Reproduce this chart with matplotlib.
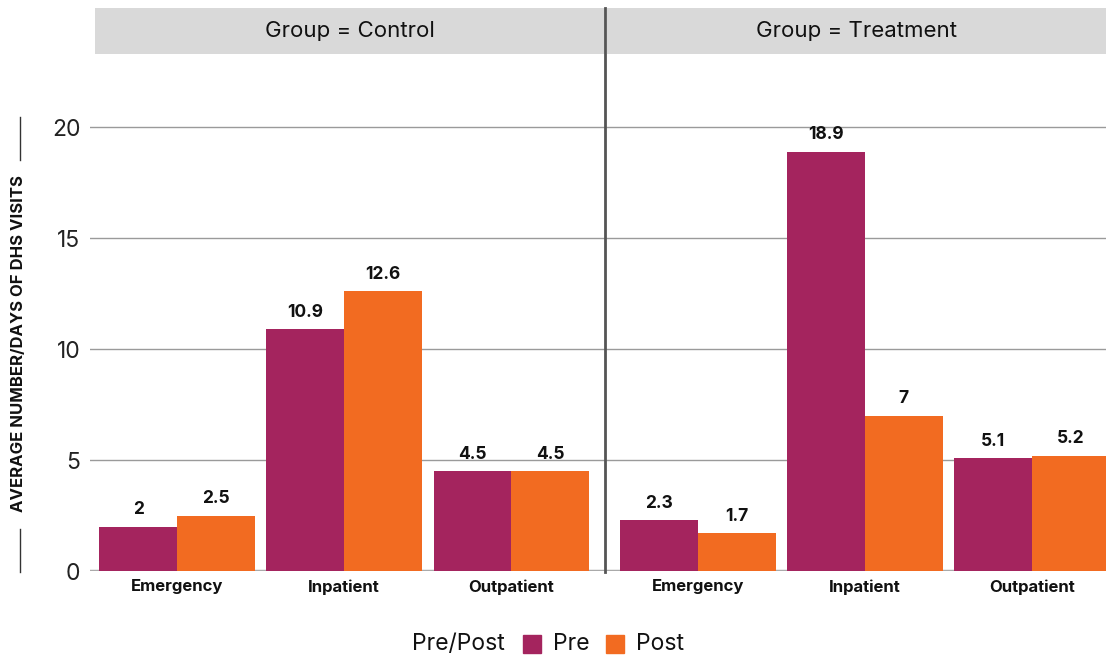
import matplotlib.pyplot as plt
from matplotlib.patches import Rectangle
from matplotlib.lines import Line2D

plt.rcParams['font.family'] = ['Inter', 'DejaVu Sans']

categories = ['Emergency', 'Inpatient', 'Outpatient']
groups = ['Control', 'Treatment']
pre_vals = {'Control': [2, 10.9, 4.5], 'Treatment': [2.3, 18.9, 5.1]}
post_vals = {'Control': [2.5, 12.6, 4.5], 'Treatment': [1.7, 7, 5.2]}
yticks = [0, 5, 10, 15, 20]

PRE = '#A4245E'
POST = '#F26B21'
W, H = 1106, 658

fig = plt.figure(figsize=(W / 100, H / 100), dpi=100)

def px(x0, y0, x1, y1):
    # pixel box (top-left origin) -> figure fraction rect
    return [x0 / W, 1 - y1 / H, (x1 - x0) / W, (y1 - y0) / H]

panels = [(90, 605, (-0.52, 2.56)), (605, 1106, (-0.557, 2.443))]
bw = 0.465

for g, (x0, x1, xl) in zip(groups, panels):
    ax = fig.add_axes(px(x0, 54, x1, 571))
    xs = list(range(len(categories)))
    for i, x in enumerate(xs):
        for v, off, c in [(pre_vals[g][i], -bw / 2, PRE), (post_vals[g][i], bw / 2, POST)]:
            ax.bar(x + off, v, width=bw, color=c, zorder=3)
            ax.annotate(f'{v:g}', (x + off, v), xytext=(0, 6), textcoords='offset points',
                        ha='center', va='bottom', fontsize=12.5, fontweight='bold', color='#111111')
    for t in yticks[1:]:
        ax.axhline(t, color='#9a9a9a', lw=1, zorder=1)
    ax.axhline(0, color='#aaaaaa', lw=2.5, zorder=2)
    ax.set_xlim(*xl)
    ax.set_ylim(0, 23.3)
    ax.set_xticks(xs)
    ax.set_xticklabels(categories, fontsize=12, fontweight='bold', color='#111111')
    ax.tick_params(axis='x', length=0, pad=6)
    for s in ax.spines.values():
        s.set_visible(False)
    if g == 'Control':
        ax.set_yticks(yticks)
        ax.set_yticklabels([str(t) for t in yticks], fontsize=16.5, color='#222222')
        ax.tick_params(axis='y', length=0, pad=7)
    else:
        ax.set_yticks([])
    # strip header
    sx0 = 95 if g == 'Control' else 607
    sax = fig.add_axes(px(sx0, 8, x1, 54))
    sax.set_facecolor('#d9d9d9')
    sax.set_xticks([])
    sax.set_yticks([])
    for s in sax.spines.values():
        s.set_visible(False)
    sax.text(0.5, 0.5, f'Group = {g}', ha='center', va='center', fontsize=16,
             color='#111111', transform=sax.transAxes)

# panel divider
fig.add_artist(Line2D([605 / W, 605 / W], [1 - 572 / H, 1 - 8 / H], color='#555555', lw=2))

# y label with side rules
fig.text(19 / W, 1 - 344 / H, 'AVERAGE NUMBER/DAYS OF DHS VISITS', rotation=90,
         ha='center', va='center', fontsize=12, fontweight='bold', color='#111111')
fig.add_artist(Line2D([20 / W, 20 / W], [1 - 117 / H, 1 - 160 / H], color='#333333', lw=1))
fig.add_artist(Line2D([20 / W, 20 / W], [1 - 529 / H, 1 - 572 / H], color='#333333', lw=1))

# legend
ly = 1 - 644 / H
fig.text(412 / W, ly, 'Pre/Post', ha='left', va='center', fontsize=16.5, color='#111111')
for x, c, lab in [(523, PRE, 'Pre'), (606, POST, 'Post')]:
    fig.add_artist(Rectangle((x / W, 1 - 653 / H), 18 / W, 18 / H, color=c,
                             transform=fig.transFigure))
    fig.text((x + 30) / W, ly, lab, ha='left', va='center', fontsize=16.5, color='#111111')

fig.savefig('out.png', dpi=100)
